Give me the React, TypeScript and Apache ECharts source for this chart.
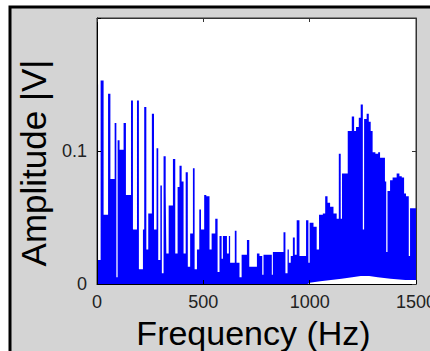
import React, { useEffect, useRef } from "react";
import * as echarts from "echarts";

// Upper envelope of |V| (step outline), frequency in Hz
const freqHz = [
  0, 5, 17, 31, 52, 63, 83, 91, 97, 106, 125, 136, 160, 169, 188, 197, 216, 222, 232, 241,
  258, 268, 280, 288, 298, 305, 313, 323, 326, 337, 357, 368, 379, 388, 398, 407, 417, 427, 438, 451,
  459, 470, 481, 489, 504, 514, 529, 539, 556, 567, 576, 586, 592, 611, 620, 626, 648, 656, 670, 680,
  705, 716, 752, 764, 777, 783, 822, 827, 877, 886, 896, 902, 911, 921, 930, 939, 952, 983, 994, 1000,
  1018, 1033, 1044, 1062, 1073, 1084, 1096, 1112, 1127, 1137, 1146, 1152, 1179, 1198, 1209, 1218, 1231, 1240, 1250, 1256,
  1268, 1278, 1287, 1296, 1309, 1322, 1331, 1354, 1360, 1366, 1378, 1390, 1409, 1422, 1433, 1444, 1453, 1466, 1472, 1500,
];
const ampV = [
  0.150, 0.018, 0.153, 0.052, 0.143, 0.079, 0.121, 0.005, 0.108, 0.101, 0.121, 0.067, 0.138, 0.041, 0.138, 0.011, 0.041, 0.133, 0.026, 0.053,
  0.128, 0.041, 0.102, 0.018, 0.074, 0.008, 0.096, 0.069, 0.023, 0.059, 0.094, 0.023, 0.073, 0.089, 0.077, 0.023, 0.084, 0.013, 0.038, 0.087,
  0.011, 0.026, 0.056, 0.041, 0.067, 0.066, 0.026, 0.038, 0.049, 0.009, 0.036, 0.019, 0.036, 0.023, 0.036, 0.016, 0.040, 0.016, 0.005, 0.022,
  0.033, 0.013, 0.023, 0.021, 0.007, 0.022, 0.007, 0.024, 0.039, 0.008, 0.026, 0.016, 0.021, 0.035, 0.022, 0.048, 0.021, 0.048, 0.016, 0.046,
  0.043, 0.026, 0.052, 0.053, 0.066, 0.061, 0.058, 0.053, 0.049, 0.098, 0.049, 0.083, 0.115, 0.126, 0.115, 0.118, 0.125, 0.135, 0.041, 0.124,
  0.128, 0.122, 0.115, 0.099, 0.098, 0.099, 0.095, 0.077, 0.024, 0.070, 0.078, 0.080, 0.083, 0.081, 0.080, 0.068, 0.066, 0.021, 0.057, 0.056,
];

// Lower envelope (white gap above the axis at high frequencies)
const floorHz = [990, 1000, 1050, 1100, 1150, 1200, 1240, 1280, 1320, 1380, 1450, 1500];
const floorV = [0, 0.001, 0.002, 0.003, 0.004, 0.005, 0.006, 0.006, 0.005, 0.004, 0.003, 0.003];

const xTicks = [0, 500, 1000, 1500];
const yTicks = [0, 0.1, 0.2];
const yShownLabels = ["0", "0.1", ""];

const FONT = "Liberation Sans";

export default function App() {
  const ref = useRef<HTMLDivElement>(null);
  useEffect(() => {
    document.body.style.margin = "0";
    const chart = echarts.init(ref.current!, null, { renderer: "svg" });
    const spectrum = freqHz.map((f, i) => [f, ampV[i]]);
    const floor = floorHz.map((f, i) => [f, floorV[i]]);
    const xMin = xTicks[0];
    const xMax = xTicks[xTicks.length - 1];
    const xInt = xTicks[1] - xTicks[0];
    const yMin = yTicks[0];
    const yMax = yTicks[yTicks.length - 1];
    const yInt = yTicks[1] - yTicks[0];
    chart.setOption({
      animation: false,
      backgroundColor: "#ffffff",
      graphic: [
        {
          type: "rect",
          z: -10,
          shape: { x: 10, y: 7, width: 440, height: 360 },
          style: { fill: "#d4d4d4", stroke: "#000", lineWidth: 3 },
        },
      ],
      grid: {
        left: 97,
        right: 14,
        top: 18,
        bottom: 67,
        containLabel: false,
        outerBoundsMode: "none",
        show: true,
        backgroundColor: "#ffffff",
        borderWidth: 1,
        borderColor: "#333",
      },
      xAxis: [
        {
          type: "value",
          min: xMin,
          max: xMax,
          interval: xInt,
          z: 10,
          name: "Frequency (Hz)",
          nameLocation: "middle",
          nameGap: 20,
          nameTextStyle: { fontFamily: FONT, fontSize: 34, color: "#000", lineHeight: 34, padding: [0, 6, 0, 0] },
          axisLine: { show: true, lineStyle: { color: "#000", width: 1 } },
          axisTick: { show: true, inside: true, length: 4, lineStyle: { color: "#000" } },
          axisLabel: {
            fontFamily: FONT,
            fontSize: 18,
            color: "#222",
            margin: 9,
            showMaxLabel: true,
            showMinLabel: true,
            hideOverlap: false,
            formatter: (v: number) => String(v),
          },
          splitLine: { show: false },
        },
        {
          type: "value",
          position: "top",
          min: xMin,
          max: xMax,
          interval: xInt,
          z: 10,
          axisLine: { show: true, onZero: false, lineStyle: { color: "#333", width: 1 } },
          axisTick: { show: true, inside: true, length: 4, lineStyle: { color: "#333" } },
          axisLabel: { show: false },
          splitLine: { show: false },
        },
      ],
      yAxis: [
        {
          type: "value",
          min: yMin,
          max: yMax,
          interval: yInt,
          z: 10,
          name: "Amplitude |V|",
          nameLocation: "middle",
          nameGap: 46,
          nameTextStyle: { fontFamily: FONT, fontSize: 35, color: "#000", padding: [0, 24, 0, 0] },
          axisLine: { show: true, lineStyle: { color: "#000", width: 1 } },
          axisTick: { show: true, inside: true, length: 4, lineStyle: { color: "#000" } },
          axisLabel: {
            fontFamily: FONT,
            fontSize: 18,
            color: "#222",
            margin: 10,
            formatter: (v: number) => {
              const idx = yTicks.findIndex((t) => Math.abs(t - v) < 1e-9);
              return idx >= 0 ? yShownLabels[idx] : "";
            },
          },
          splitLine: { show: false },
        },
        {
          type: "value",
          position: "right",
          min: yMin,
          max: yMax,
          interval: yInt,
          z: 10,
          axisLine: { show: true, onZero: false, lineStyle: { color: "#333", width: 1 } },
          axisTick: { show: true, inside: true, length: 4, lineStyle: { color: "#333" } },
          axisLabel: { show: false },
          splitLine: { show: false },
        },
      ],
      series: [
        {
          type: "line",
          data: spectrum,
          step: "end",
          showSymbol: false,
          symbol: "none",
          lineStyle: { width: 0, color: "#0000ff" },
          areaStyle: { color: "#0000ff", opacity: 1 },
          z: 2,
          silent: true,
        },
        {
          type: "line",
          data: floor,
          showSymbol: false,
          symbol: "none",
          lineStyle: { width: 0, color: "#ffffff" },
          areaStyle: { color: "#ffffff", opacity: 1 },
          z: 3,
          silent: true,
        },
      ],
    });
    return () => chart.dispose();
  }, []);
  return <div ref={ref} style={{ width: 430, height: 351 }} />;
}
